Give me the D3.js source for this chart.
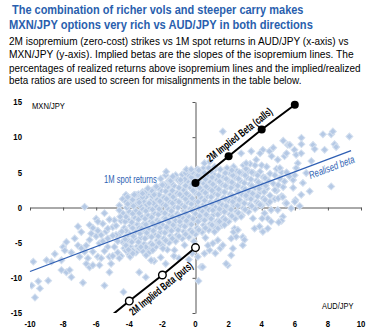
<!DOCTYPE html>
<html><head><meta charset="utf-8">
<script src="https://cdn.jsdelivr.net/npm/d3@7"></script>
<style>
html,body{margin:0;padding:0;background:#fff;}
svg{display:block;font-family:"Liberation Sans",Arial,sans-serif;}
</style></head><body>
<svg id="chart" width="369" height="333"></svg>
<script>
// ---------- text ----------
const titleLines = [
  "The combination of richer vols and steeper carry makes",
  "MXN/JPY options very rich vs AUD/JPY in both directions"
];
const subtitleLines = [
  "2M isopremium (zero-cost) strikes vs 1M spot returns in AUD/JPY (x-axis) vs",
  "MXN/JPY (y-axis). Implied betas are the slopes of the isopremium lines. The",
  "percentages of realized returns above isopremium lines and the implied/realized",
  "beta ratios are used to screen for misalignments in the table below."
];
const xAxisLabel = "AUD/JPY";
const yAxisLabel = "MXN/JPY";
const xTicks = [-10,-8,-6,-4,-2,0,2,4,6,8,10];
const yTicks = [-15,-10,-5,0,5,10,15];

// ---------- series ----------
// 1M spot returns: [AUD/JPY %, MXN/JPY %]
const spotCore = [
 [-4.5,-6.9],[-4.3,-5.8],[-4.4,-4.9],[-4.6,-3.8],[-4.3,-2.9],[-4.5,-1.9],[-4.4,-0.8],[-4.6,0.3],[-4.4,1.2],
 [-4.0,-6.7],[-3.9,-5.6],[-4.1,-4.6],[-4.0,-3.7],[-3.9,-2.6],[-4.1,-1.7],[-4.0,-0.6],[-3.9,0.5],[-4.1,1.5],
 [-3.6,-6.4],[-3.5,-5.5],[-3.7,-4.4],[-3.6,-3.5],[-3.5,-2.4],[-3.7,-1.4],[-3.6,-0.5],[-3.5,0.6],[-3.7,1.8],
 [-3.2,-6.2],[-3.1,-5.2],[-3.3,-4.3],[-3.2,-3.2],[-3.1,-2.3],[-3.3,-1.2],[-3.2,-0.2],[-3.1,0.8],[-3.3,1.6],[-3.2,2.2],
 [-2.8,-6.0],[-2.7,-5.1],[-2.9,-4.0],[-2.8,-3.1],[-2.7,-2.0],[-2.9,-1.1],[-2.8,-0.1],[-2.7,0.9],[-2.9,1.8],[-2.8,2.5],
 [-2.4,-5.6],[-2.3,-4.7],[-2.5,-3.8],[-2.4,-2.7],[-2.3,-1.8],[-2.5,-0.8],[-2.4,0.2],[-2.3,1.1],[-2.5,2.0],[-2.4,2.8],
 [-2.0,-5.4],[-1.9,-4.4],[-2.1,-3.5],[-2.0,-2.5],[-1.9,-1.5],[-2.1,-0.6],[-2.0,0.5],[-1.9,1.4],[-2.1,2.4],[-2.0,3.3],
 [-1.6,-5.0],[-1.5,-4.0],[-1.7,-3.1],[-1.6,-2.1],[-1.5,-1.1],[-1.7,-0.1],[-1.6,0.9],[-1.5,1.8],[-1.7,2.9],[-1.6,3.8],
 [-1.2,-4.8],[-1.1,-3.9],[-1.3,-2.8],[-1.2,-1.9],[-1.1,-0.9],[-1.3,0.1],[-1.2,1.0],[-1.1,2.0],[-1.3,3.1],[-1.2,4.3],
 [-0.8,-4.4],[-0.7,-3.4],[-0.9,-2.5],[-0.8,-1.4],[-0.7,-0.5],[-0.9,0.5],[-0.8,1.6],[-0.7,2.5],[-0.9,3.6],[-0.8,4.7],
 [-0.4,-4.2],[-0.3,-3.2],[-0.5,-2.2],[-0.4,-1.3],[-0.3,-0.2],[-0.5,0.8],[-0.4,1.7],[-0.3,2.8],[-0.5,3.7],[-0.4,4.5],[-0.3,5.2],
 [0.0,-3.8],[0.1,-2.9],[-0.1,-1.8],[0.0,-0.9],[0.1,0.1],[-0.1,1.0],[0.0,2.1],[0.1,3.0],[-0.1,4.0],[0.0,4.8],[0.1,5.4],
 [0.4,-3.5],[0.5,-2.5],[0.3,-1.6],[0.4,-0.5],[0.5,0.4],[0.3,1.5],[0.4,2.4],[0.5,3.4],[0.3,4.3],[0.4,5.0],[0.5,5.6],
 [0.8,-3.2],[0.9,-2.3],[0.7,-1.2],[0.8,-0.3],[0.9,0.7],[0.7,1.6],[0.8,2.7],[0.9,3.6],[0.7,4.5],[0.8,5.6],
 [1.2,-2.9],[1.3,-2.0],[1.1,-1.0],[1.2,0.0],[1.3,1.0],[1.1,2.0],[1.2,2.9],[1.3,3.9],[1.1,4.7],[1.2,5.5],
 [1.6,-2.5],[1.7,-1.5],[1.5,-0.6],[1.6,0.4],[1.7,1.4],[1.5,2.3],[1.6,3.3],[1.7,4.3],[1.5,5.4],
 [2.0,-2.0],[2.1,-1.0],[1.9,0.0],[2.0,1.0],[2.1,1.9],[1.9,2.9],[2.0,3.8],[2.1,4.8],[1.9,5.6],
 [2.4,-1.6],[2.5,-0.6],[2.3,0.4],[2.4,1.3],[2.5,2.4],[2.3,3.3],[2.4,4.3],[2.5,5.2],[2.3,5.8],
 [2.8,-1.1],[2.9,-0.1],[2.7,0.9],[2.8,1.9],[2.9,2.8],[2.7,3.8],[2.8,4.9],[2.9,6.0],
 [3.2,-0.6],[3.3,0.4],[3.1,1.4],[3.2,2.3],[3.3,3.3],[3.1,4.3],[3.2,5.2],[3.3,6.2],
 [3.6,-0.2],[3.7,0.8],[3.5,1.8],[3.6,2.8],[3.7,3.8],[3.5,4.9],[3.6,6.0],
 [4.0,0.3],[4.1,1.3],[3.9,2.2],[4.0,3.3],[4.1,4.3],[3.9,5.1],[4.0,6.0],
 [4.4,0.6],[4.5,1.7],[4.3,2.7],[4.4,3.8],[4.5,4.8],[4.3,5.8],
 [4.8,1.2],[4.9,2.4],[4.7,3.4],[4.8,4.6],[4.9,5.5],
 [5.2,1.6],[5.3,2.9],[5.1,4.1],[5.2,5.0]
];
const spotInner = [
 [-4.2,-6.1],[-4.25,-5.2],[-4.15,-4.0],[-4.2,-3.3],[-4.25,-2.0],[-4.2,-1.3],[-4.15,0.0],[-4.2,0.8],
 [-3.8,-6.1],[-3.85,-4.9],[-3.75,-4.1],[-3.8,-2.9],[-3.85,-2.1],[-3.8,-0.9],[-3.75,0.2],[-3.8,1.1],
 [-3.4,-5.8],[-3.45,-4.9],[-3.35,-3.7],[-3.4,-2.9],[-3.45,-1.7],[-3.4,-0.8],[-3.35,0.3],[-3.4,1.1],[-3.45,1.9],
 [-3.0,-5.6],[-3.05,-4.4],[-2.95,-3.6],[-3.0,-2.4],[-3.05,-1.6],[-3.0,-0.5],[-2.95,0.4],[-3.0,1.5],[-3.05,2.1],
 [-2.6,-5.3],[-2.65,-4.2],[-2.55,-3.3],[-2.6,-2.2],[-2.65,-1.4],[-2.6,-0.3],[-2.55,0.6],[-2.6,1.6],[-2.65,2.4],
 [-2.2,-5.0],[-2.25,-4.1],[-2.15,-2.9],[-2.2,-2.1],[-2.25,-1.0],[-2.2,-0.2],[-2.15,0.9],[-2.2,1.8],[-2.25,2.8],
 [-1.8,-4.7],[-1.85,-3.6],[-1.75,-2.8],[-1.8,-1.6],[-1.85,-0.8],[-1.8,0.3],[-1.75,1.2],[-1.8,2.3],[-1.85,3.2],
 [-1.4,-4.4],[-1.45,-3.3],[-1.35,-2.5],[-1.4,-1.3],[-1.45,-0.5],[-1.4,0.6],[-1.35,1.5],[-1.4,2.4],[-1.45,3.5],
 [-1.0,-4.1],[-1.05,-3.2],[-0.95,-2.0],[-1.0,-1.2],[-1.05,0.0],[-1.0,0.8],[-0.95,1.9],[-1.0,2.8],[-1.05,3.9],
 [-0.6,-3.8],[-0.65,-2.7],[-0.55,-1.9],[-0.6,-0.8],[-0.65,0.1],[-0.6,1.2],[-0.55,2.0],[-0.6,3.1],[-0.65,4.0],[-0.6,4.9],
 [-0.2,-3.5],[-0.25,-2.4],[-0.15,-1.6],[-0.2,-0.4],[-0.25,0.5],[-0.2,1.3],[-0.15,2.4],[-0.2,3.3],[-0.25,4.3],[-0.2,5.0],
 [0.2,-3.2],[0.15,-2.0],[0.25,-1.2],[0.2,-0.1],[0.15,0.8],[0.2,1.9],[0.25,2.8],[0.2,3.7],[0.15,4.6],[0.2,5.3],
 [0.6,-2.9],[0.55,-1.8],[0.65,-1.0],[0.6,0.1],[0.55,1.0],[0.6,2.1],[0.65,3.0],[0.6,4.0],[0.55,4.9],
 [1.0,-2.5],[0.95,-1.6],[1.05,-0.4],[1.0,0.5],[0.95,1.5],[1.0,2.4],[1.05,3.3],[1.0,4.3],[0.95,5.1],
 [1.4,-2.1],[1.35,-1.0],[1.45,-0.2],[1.4,0.8],[1.35,1.8],[1.4,2.6],[1.45,3.7],[1.4,4.5],
 [1.8,-1.7],[1.75,-0.6],[1.85,0.2],[1.8,1.2],[1.75,2.2],[1.8,3.1],[1.85,4.1],[1.8,4.9],
 [2.2,-1.2],[2.15,-0.3],[2.25,0.8],[2.2,1.7],[2.15,2.8],[2.2,3.6],[2.25,4.6],[2.2,5.3],
 [2.6,-0.8],[2.55,0.3],[2.65,1.1],[2.6,2.2],[2.55,3.1],[2.6,4.1],[2.65,5.0],
 [3.0,-0.3],[2.95,0.6],[3.05,1.7],[3.0,2.6],[2.95,3.5],[3.0,4.6],[3.05,5.5],
 [3.4,0.2],[3.35,1.2],[3.45,2.0],[3.4,3.1],[3.35,4.0],[3.4,5.0],
 [3.8,0.6],[3.75,1.6],[3.85,2.7],[3.8,3.6],[3.75,4.6],
 [4.2,1.1],[4.15,2.2],[4.25,3.1],[4.2,4.2]
];
const spotTails = [
 // left tail
 [-9.8,-7.7],[-9.9,-11.1],[-9.7,-12.8],[-9.5,-10.5],[-9.4,-11.5],[-8.9,-10.4],[-9.0,-7.5],[-8.7,-7.7],
 [-8.5,-6.6],[-8.1,-7.5],[-8.0,-5.6],[-7.9,-6.1],[-8.1,-8.9],[-7.8,-9.2],[-7.6,-8.9],[-7.5,-9.9],
 [-7.1,-2.7],[-6.8,-10.7],[-7.1,-5.4],[-6.9,-5.8],[-6.7,-6.3],[-6.6,-5.4],[-6.4,-2.5],[-6.3,-3.7],
 [-6.6,-8.0],[-6.4,-8.5],[-6.2,-8.2],[-6.0,-1.6],[-6.0,-4.1],[-5.8,-5.1],[-5.9,-7.0],[-5.7,-7.2],
 [-5.8,-8.2],[-5.5,-0.8],[-5.5,-11.1],[-5.4,-3.4],[-5.3,-5.6],[-5.2,-7.0],[-5.2,-9.2],[-5.1,-8.0],
 [-4.9,-1.8],[-4.8,-3.9],[-4.9,-5.6],[-4.7,-6.4],[-4.6,-7.2],[-4.35,-12.0],[-4.55,-1.3],[-4.45,-3.4],
 [-4.25,-4.5],[-4.2,-5.4],[-4.05,-6.0],[-3.95,-7.0],[-3.4,-9.2],[-3.3,-5.6],[-3.0,-9.9],[-3.25,-3.0],
 [-2.8,-6.4],[-2.5,-7.6],[-2.1,-7.1],[-1.8,-8.0],[-1.7,-6.0],[-1.3,-6.9],
 [-6.2,-2.9],[-5.9,-3.3],[-5.6,-2.3],[-5.3,-4.4],[-5.0,-2.8],[-5.6,-4.8],[-6.4,-4.6],[-6.9,-3.5],
 [-7.3,-4.4],[-7.5,-6.4],[-7.0,-7.0],[-6.2,-6.3],[-5.5,-6.2],[-5.0,-6.9],[-4.7,-4.8],[-4.8,-2.6],
 [-5.2,-1.7],[-4.6,-0.4],[-5.9,-2.0],[-7.8,-4.9],[-5.0,-4.0],[-5.3,-3.0],[-5.7,-3.9],[-6.5,-7.2],
 // upper-left edge
 [-6.7,0.1],[-4.2,1.8],[-4.1,0.5],[-3.6,1.8],[-3.4,0.7],[-3.2,1.5],[-2.8,0.6],[-2.5,1.8],
 [-2.0,3.2],[-1.8,4.6],[-2.1,4.1],[-1.5,3.8],[-1.2,4.6],[-0.9,3.9],[-0.55,5.4],[-0.26,5.4],
 [0.54,6.3],[0.85,6.5],[1.15,5.8],[-1.77,5.1],[-1.37,4.4],[-2.37,3.0],[-2.88,2.7],[-3.2,2.0],
 [-3.7,1.8],[-4.1,1.5],
 // lower-centre
 [0.34,-8.45],[0.14,-7.0],[0.54,-6.55],[0.85,-6.07],[0.75,-5.4],[-0.66,-5.36],[-1.27,-6.07],
 [-1.97,-5.83],[-2.58,-6.07],[-2.98,-6.8],[-3.79,-6.55],[-2.68,-7.5],[0.44,-8.45],[0.18,-10.45],
 [1.95,-8.2],[2.16,-6.8],[-0.4,-7.4],[-1.0,-7.2],[-0.2,-6.5],[1.2,-6.5],[1.5,-5.8],[-0.1,-4.8],[0.6,-4.3],
 // lower-right
 [6.04,1.07],[5.44,0.6],[5.78,-0.1],[4.97,-0.36],[4.57,-0.36],[4.17,-0.83],[4.37,-1.55],[4.03,-1.55],
 [5.28,-1.3],[5.2,-1.9],[5.03,-2.1],[4.57,-2.0],[3.47,-1.55],[3.87,-2.7],[4.37,-3.0],[4.07,-3.45],
 [3.57,-3.0],[2.76,-1.3],[2.36,-3.0],[2.3,-3.5],[2.56,-3.2],[2.86,-4.2],[2.96,-4.6],[2.46,-4.17],
 [2.86,-5.36],[2.16,-4.4],[2.26,-5.83],[1.65,-5.36],[1.35,-4.64],[1.05,-5.1],[1.85,-7.98],[1.35,-3.0],
 [1.75,-2.5],[1.45,-2.0],[1.15,-3.45],[4.5,0.8],[5.0,1.3],[3.9,0.4],[6.3,0.2],
 // upper-right
 [1.65,10.8],[2.76,7.7],[3.37,8.0],[4.47,8.0],[5.58,8.9],[5.98,8.2],[6.08,7.5],[6.39,7.7],
 [6.18,6.3],[5.38,7.3],[4.97,6.8],[4.6,7.3],[4.07,8.2],[3.67,6.8],[3.06,6.3],[6.69,4.9],
 [6.49,3.5],[5.68,4.4],[5.38,3.7],[6.39,1.8],[5.28,1.5],[5.9,2.8],[8.2,10.4],[8.3,10.8],
 [7.7,10.4],[9.3,10.1],[8.4,9.0],[8.5,8.6],[7.1,8.9],[7.2,8.3],[6.4,9.9],[6.4,9.0],
 [7.8,8.2],[7.0,6.6],[6.08,5.6],[6.9,2.3],[8.2,3.0],[6.0,0.8],[5.5,0.6],[5.9,3.9],
 [5.1,5.6],[5.5,7.7],[4.7,8.5],[3.9,7.7],[5.7,8.9],[5.3,9.5],[4.8,2.5],[5.0,3.2],[6.0,4.6],[5.5,5.0]
];

// Realised beta regression line (end points)
const realisedX = [-10, 9.4];
const realisedY = [-9.1, 8.1];
// 2M implied beta (calls) isopremium line
const callsX = [0, 2, 4, 6];
const callsY = [3.5, 7.3, 11.1, 14.6];
// 2M implied beta (puts) isopremium line (first point unmarked, runs off chart)
const putsX = [-5, -4, -2, 0];
const putsY = [-15.2, -13.3, -9.6, -5.7];
const putsMarked = [false, true, true, true];

const labels = {
  spot: "1M spot returns",
  realised: "Realised beta",
  calls: "2M Implied Beta (calls)",
  puts: "2M Implied Beta (puts)"
};

// ---------- drawing ----------
const svg = d3.select("#chart");
svg.append("rect").attr("width",369).attr("height",333).attr("fill","#fff");

const x = d3.scaleLinear().domain([-10,10]).range([30,361]);
const y = d3.scaleLinear().domain([-15,15]).range([313,102]);

const blue = "#2a5fae";
const axisCol = "#555";
const NARROW = 0.82;   // horizontal condensing to imitate a narrow face

// keep font-size (glyph height), squeeze horizontally to target width
function squeeze(sel, baseTransform, target){
  const L = sel.node().getComputedTextLength();
  const k = L > 0 ? target/L : 1;
  sel.attr("transform", `${baseTransform} scale(${k.toFixed(3)},1)`);
  return sel;
}

// title
const titleX = [12, 9], titleLen = [292, 304];
titleLines.forEach((t,i)=>{
  squeeze(svg.append("text").attr("font-size", 12.5).attr("font-weight","bold").attr("fill", blue).text(t),
    `translate(${titleX[i]},${14 + i*15})`, titleLen[i]);
});
const subY = [45, 57.5, 72, 84];
const subLen = [340, 345, 352, 293];
subtitleLines.forEach((t,i)=>{
  squeeze(svg.append("text").attr("font-size", 11).attr("fill", "#000").text(t),
    `translate(9,${subY[i]})`, subLen[i]);
});

// axes through origin (behind points)
const gx = svg.append("g").attr("transform",`translate(0,${y(0)})`)
  .call(d3.axisBottom(x).tickValues(xTicks).tickSize(3).tickSizeOuter(0).tickFormat(""));
const gy = svg.append("g").attr("transform",`translate(${x(0)},0)`)
  .call(d3.axisLeft(y).tickValues(yTicks).tickSize(3).tickSizeOuter(0).tickFormat(""));
[gx,gy].forEach(g=>{ g.selectAll("path,line").attr("stroke",axisCol).attr("stroke-width",1); });

// tick labels along bottom and left
const fmt = d => String(d);
svg.append("g").selectAll("text").data(xTicks).join("text")
  .attr("transform", d=>`translate(${x(d)},327) scale(${NARROW},1)`).attr("text-anchor","middle")
  .attr("font-size", 9.5).attr("font-weight","bold").attr("fill","#000").text(fmt);
svg.append("g").selectAll("text").data(yTicks).join("text")
  .attr("transform", d=>`translate(22,${y(d)+3.2}) scale(${NARROW},1)`).attr("text-anchor","end")
  .attr("font-size", 9.5).attr("font-weight","bold").attr("fill","#000").text(fmt);

squeeze(svg.append("text").attr("font-size",9.5).attr("fill","#000").text(yAxisLabel), "translate(32,108.5)", 33);
squeeze(svg.append("text").attr("font-size",9.5).attr("fill","#000").text(xAxisLabel), "translate(322,308.5)", 31.5);

// scatter
svg.append("clipPath").attr("id","plotclip").append("rect")
  .attr("x",x(-10)).attr("y",y(15)).attr("width",x(10)-x(-10)).attr("height",y(-15)-y(15));
const spotReturns = spotCore.concat(spotInner, spotTails);
const diamond = d3.symbol(d3.symbolSquare, 24);
svg.append("g").attr("clip-path","url(#plotclip)")
  .selectAll("path").data(spotReturns).join("path")
  .attr("d", diamond)
  .attr("transform", d=>`translate(${x(d[0])},${y(d[1])}) rotate(45)`)
  .attr("fill","#b5c9e5").attr("stroke","#d3dfef").attr("stroke-width",1);

// realised beta line
const line = d3.line().x(d=>x(d[0])).y(d=>y(d[1]));
svg.append("path").datum(realisedX.map((v,i)=>[v,realisedY[i]]))
  .attr("d", line).attr("stroke", "#2f5fb3").attr("stroke-width",1.3).attr("fill","none");

// implied beta lines
const gLines = svg.append("g").attr("clip-path","url(#plotclip)");
const callsData = callsX.map((v,i)=>[v,callsY[i]]);
const putsData = putsX.map((v,i)=>[v,putsY[i],putsMarked[i]]);
gLines.append("path").datum(callsData).attr("d",line).attr("stroke","#000").attr("stroke-width",2).attr("fill","none");
gLines.append("path").datum(putsData).attr("d",line).attr("stroke","#000").attr("stroke-width",2).attr("fill","none");
svg.append("g").selectAll("circle").data(callsData).join("circle")
  .attr("cx",d=>x(d[0])).attr("cy",d=>y(d[1])).attr("r",4).attr("fill","#000");
svg.append("g").selectAll("circle").data(putsData.filter(d=>d[2])).join("circle")
  .attr("cx",d=>x(d[0])).attr("cy",d=>y(d[1])).attr("r",3.8).attr("fill","#fff").attr("stroke","#000").attr("stroke-width",1.4);

// labels along lines
function angleOf(x0,y0,x1,y1){ return Math.atan2(y(y1)-y(y0), x(x1)-x(x0))*180/Math.PI; }
function lineAt(xs,ys,xv){ const s=(ys[ys.length-1]-ys[0])/(xs[xs.length-1]-xs[0]); return ys[0]+s*(xv-xs[0]); }

const aC = angleOf(callsX[0],callsY[0],callsX[3],callsY[3]);
squeeze(svg.append("text").attr("y",-10.5).attr("dominant-baseline","central").attr("text-anchor","middle")
  .attr("font-size",11).attr("font-weight","bold").text(labels.calls),
  `translate(${x(3.05)},${y(lineAt(callsX,callsY,3.05))}) rotate(${aC})`, 80);

const aP = angleOf(putsX[1],putsY[1],putsX[3],putsY[3]);
const pX = -2.47;
squeeze(svg.append("text").attr("y",10.5).attr("dominant-baseline","central").attr("text-anchor","middle")
  .attr("font-size",11).attr("font-weight","bold").text(labels.puts),
  `translate(${x(pX)},${y(lineAt(putsX.slice(1),putsY.slice(1),pX))}) rotate(${aP})`, 78);

const aR = angleOf(realisedX[0],realisedY[0],realisedX[1],realisedY[1]);
squeeze(svg.append("text").attr("y",9).attr("dominant-baseline","central").attr("text-anchor","middle")
  .attr("font-size",10.5).attr("font-style","italic").attr("fill","#2f5fb3").text(labels.realised),
  `translate(${x(8.04)},${y(lineAt(realisedX,realisedY,8.04))}) rotate(${aR})`, 48);

squeeze(svg.append("text").attr("font-size",10.5).attr("fill","#2f5fb3").text(labels.spot), "translate(104,182.5)", 53);
</script>
</body></html>
